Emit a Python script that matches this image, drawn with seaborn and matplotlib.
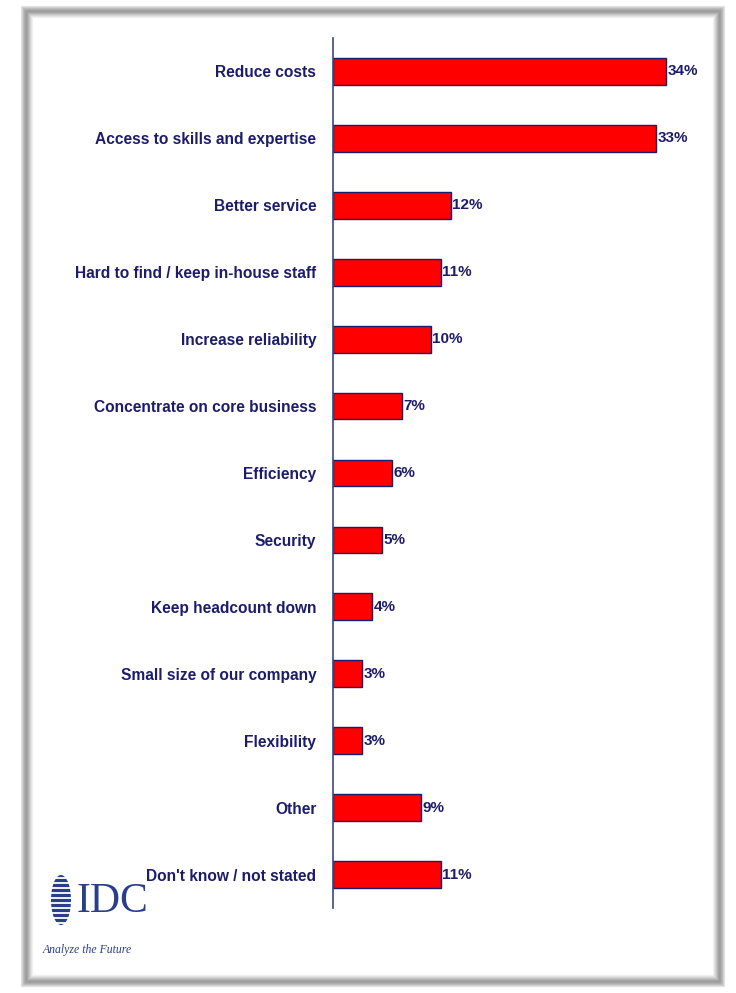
import matplotlib
matplotlib.use("Agg")
import matplotlib.pyplot as plt
import seaborn as sns
import pandas as pd
from matplotlib.patches import Rectangle, Ellipse

categories = ["Reduce costs", "Access to skills and expertise", "Better service",
              "Hard to find / keep in-house staff", "Increase reliability",
              "Concentrate on core business", "Efficiency", "Security",
              "Keep headcount down", "Small size of our company", "Flexibility",
              "Other", "Don't know / not stated"]
values = [34, 33, 12, 11, 10, 7, 6, 5, 4, 3, 3, 9, 11]
value_labels = ["34%", "33%", "12%", "11%", "10%", "7%", "6%", "5%", "4%", "3%", "3%", "9%", "11%"]

df = pd.DataFrame({"reason": categories, "pct": values})

sns.set_theme(style="white")
plt.rcParams['font.family'] = ["Liberation Sans", 'DejaVu Sans']

W, H = 736, 993
fig = plt.figure(figsize=(W / 100, H / 100), dpi=100)
fig.patch.set_facecolor("white")

# beveled gray frame (pixel coords: outer edge -> inner edge)
band = ["#e4e4e4", "#d2d2d2", "#c0c0c0", "#b0b0b0", "#a4a4a4", "#9c9c9c", "#a4a4a4",
        "#b2b2b2", "#c2c2c2", "#d2d2d2", "#e2e2e2", "#f0f0f0"]
x0, y0, x1, y1 = 21, 6, 724, 986
for i, c in enumerate(band):
    fig.patches.append(Rectangle(((x0 + i) / W, 1 - (y1 - i) / H),
                                 (x1 - x0 - 2 * i) / W, (y1 - y0 - 2 * i) / H,
                                 transform=fig.transFigure, facecolor="none",
                                 edgecolor=c, linewidth=0.9, zorder=0))

navy = "#1c1c6b"
ax = fig.add_axes([333 / W, 1 - 908 / H, 367 / W, 870 / H])
sns.barplot(data=df, y="reason", x="pct", orient="h", color="#ff0000", saturation=1,
            width=0.4, edgecolor=navy, linewidth=1.0, ax=ax)
ax.set_xlim(0, 367 / 9.8)
ax.set_ylim(12.5, -0.5)
ax.set_xlabel("")
ax.set_ylabel("")
ax.set_xticks([])
for s in ["top", "right", "bottom"]:
    ax.spines[s].set_visible(False)
ax.spines["left"].set_color("#3a4a7a")
ax.spines["left"].set_linewidth(1.2)
ax.set_yticks(range(len(categories)))
ax.set_yticklabels(categories, fontsize=11.2, fontweight="bold", color=navy)
ax.tick_params(axis="y", which="major", length=0, pad=12)
ax.set_yticks([i - 0.5 for i in range(len(categories) + 1)], minor=True)
ax.tick_params(axis="y", which="minor", length=4, width=1, color="#3a4a7a", direction="out")
ax.set_facecolor("white")

for i, (v, lab) in enumerate(zip(values, value_labels)):
    ax.text(v + 0.15, i, lab, va="center", ha="left", fontsize=11, fontweight="bold", color=navy)

# IDC logo
lax = fig.add_axes([40 / W, 1 - 965 / H, 120 / W, 100 / H])
lax.set_xlim(40, 160)
lax.set_ylim(965, 865)
lax.axis("off")
lax.add_patch(Ellipse((61, 900), 20, 50, facecolor="#2a3f8a", edgecolor="none"))
for yy in range(878, 925, 5):
    lax.plot([47, 75], [yy, yy], color="white", linewidth=1.3)
lax.text(77, 902, "IDC", fontsize=30, family=["Liberation Serif", "DejaVu Serif"], color="#2a3f8a",
         va="center", ha="left")
lax.text(43, 950, "Analyze the Future", fontsize=8.5, family=["Liberation Serif", "DejaVu Serif"],
         style="italic", color="#2a3f8a", va="center", ha="left")

fig.savefig("out.png", dpi=100, facecolor="white")
